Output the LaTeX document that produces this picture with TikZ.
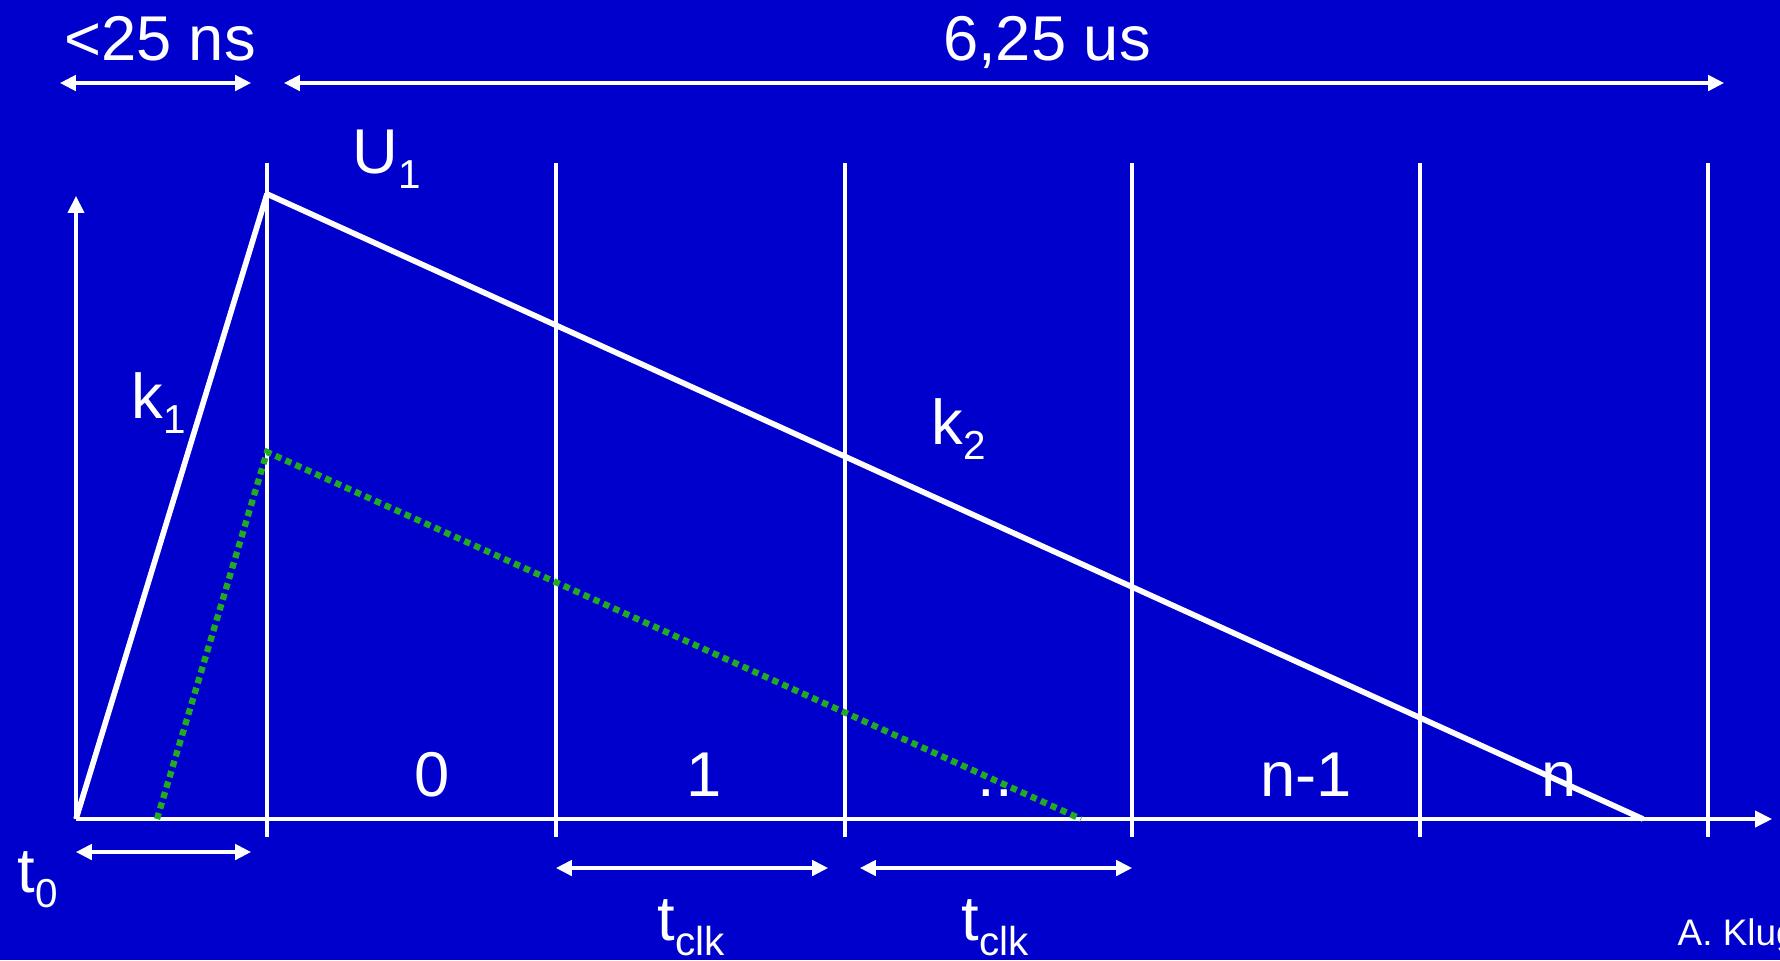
\documentclass[tikz,border=0pt]{standalone}
\usepackage{fontspec}
\setmainfont{Liberation Sans}
\usepackage{xcolor}
\usetikzlibrary{arrows.meta}
\definecolor{slideBlue}{RGB}{0,0,204}
\definecolor{dotGreen}{RGB}{34,170,34}
\newcommand{\lowidx}[1]{\raisebox{-4.4pt}{\fontsize{11.5}{12}\selectfont #1}}

\begin{document}
\begin{tikzpicture}[
    x=0.01cm, y=-0.01cm,
    axis/.style={white, line width=0.9pt, -{Triangle[length=4.8pt, width=4.6pt]}},
    gridline/.style={white, line width=0.9pt},
    signal/.style={white, line width=1.6pt, line join=bevel},
    refsig/.style={dotGreen, line width=1.8pt, dash pattern=on 1.8pt off 1.3pt},
    span/.style={white, line width=0.9pt, {Triangle[length=4.5pt, width=4.4pt]}-{Triangle[length=4.5pt, width=4.4pt]}},
    lbl/.style={text=white, font=\fontsize{18}{20}\selectfont, inner sep=0pt, anchor=base},
    note/.style={text=white, font=\fontsize{10.5}{12}\selectfont, inner sep=0pt, anchor=base west}
]
% Background
\fill[slideBlue] (0,0) rectangle (1780,960);
\useasboundingbox (0,0) rectangle (1780,960);

% Points
\coordinate (o) at (76,819);
\coordinate (xend) at (1772,819);
\coordinate (ytop) at (76,196);
\coordinate (peak) at (267,194);
\coordinate (tail) at (1643,819);
\coordinate (gstart) at (157,819);
\coordinate (gpeak) at (267,452);
\coordinate (gend) at (1081,819);

% Clock slots
\foreach \x in {267,556,845,1132,1420,1708}
    \draw[gridline] (\x,163) -- (\x,837);

% Axes
\draw[axis] (o) -- (xend);
\draw[axis] (o) -- (ytop);

% Signals
\draw[refsig] (gstart) -- (gpeak) -- (gend);
\draw[signal] (o) -- (peak) -- (tail);

% Spans
\coordinate (nsL) at (60,83);   \coordinate (nsR) at (251,83);
\coordinate (usL) at (284,83);  \coordinate (usR) at (1724,83);
\coordinate (t0L) at (76,852);  \coordinate (t0R) at (251,852);
\coordinate (c1L) at (556,868); \coordinate (c1R) at (828,868);
\coordinate (c2L) at (860,868); \coordinate (c2R) at (1132,868);
\draw[span] (nsL) -- (nsR);
\draw[span] (usL) -- (usR);
\draw[span] (t0L) -- (t0R);
\draw[span] (c1L) -- (c1R);
\draw[span] (c2L) -- (c2R);

% Labels
\node[lbl] (ns) at (160,60) {<25 ns};
\node[lbl] (us) at (1047,60) {6,25 us};
\node[lbl, anchor=base west] (u1) at (352,173) {U\lowidx{1}};
\node[lbl, anchor=base west] (k1) at (131,418) {k\lowidx{1}};
\node[lbl, anchor=base west] (k2) at (931,444) {k\lowidx{2}};
\node[lbl] (s0) at (432,796) {0};
\node[lbl] (s1) at (704,796) {1};
\node[lbl] (sdots) at (995,796) {..};
\node[lbl] (sn1) at (1306,796) {n-1};
\node[lbl] (sn) at (1559,796) {n};
\node[lbl, anchor=base west] (t0) at (17,892) {t\lowidx{0}};
\node[lbl, anchor=base west] (clk1) at (657,940) {t\lowidx{clk}};
\node[lbl, anchor=base west] (clk2) at (961,940) {t\lowidx{clk}};
\node[note] (author) at (1677,945) {A. Klug};
\end{tikzpicture}
\end{document}
